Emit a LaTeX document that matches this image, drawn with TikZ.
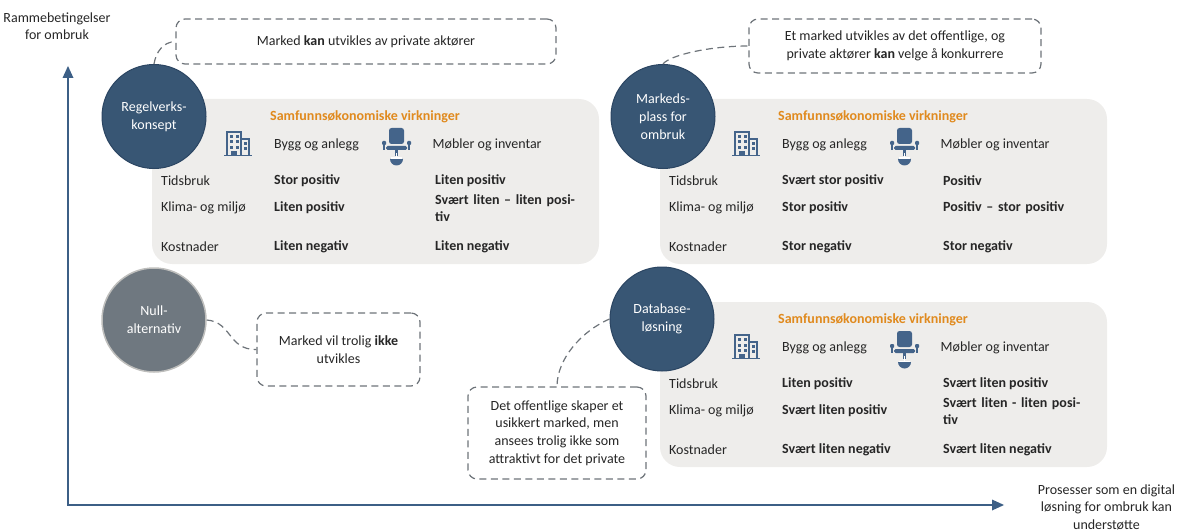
\documentclass[tikz,border=0pt]{standalone}
\usepackage{fontspec}
\setmainfont{Carlito}
\definecolor{navy}{HTML}{385674}
\definecolor{navyd}{HTML}{2B4562}
\definecolor{axisc}{HTML}{3C5F86}
\definecolor{panelc}{HTML}{EEEDEB}
\definecolor{orangec}{HTML}{E08A1E}
\definecolor{dashc}{HTML}{6E747A}
\definecolor{greyc}{HTML}{6F7880}
\definecolor{iconc}{HTML}{44648A}
\tikzset{x=1pt,y=-1pt,
 txt/.style={font=\fontsize{14}{17}\selectfont,text=black!85,anchor=west,inner sep=0,align=left},
 btxt/.style={txt,font=\fontsize{14}{17}\selectfont\bfseries},
 ctxt/.style={font=\fontsize{14}{17.6}\selectfont,text=black!85,align=center,inner sep=0},
 panel/.style={fill=panelc,draw=none,rounded corners=20pt},
 circ/.style={circle,fill=navy,draw=navyd,line width=1pt,minimum size=104pt,inner sep=0,text=white,align=center,font=\fontsize{14}{18}\selectfont},
 dbox/.style={draw=dashc,line width=1.2pt,dash pattern=on 7pt off 4.5pt,rounded corners=9pt,fill=white},
 dlink/.style={draw=dashc,line width=1.2pt,dash pattern=on 7pt off 4.5pt},
 ax/.style={draw=axisc,line width=1.4pt},
 head/.style={font=\fontsize{14}{17}\selectfont\bfseries,text=orangec,inner sep=0},
}
\newcommand{\buildingicon}[2]{%
 \begin{scope}[shift={(#1,#2)},iconc]
  \draw[line width=1pt] (-2,24.5)--(26,24.5);
  \draw[line width=1.2pt] (1,24) -- (1,1) -- (15,1) -- (15,24);
  \draw[line width=1.2pt] (15,8) -- (23,8) -- (23,24);
  \foreach \a in {4,9.5}{\foreach \b in {4,9.5,15}{\fill (\a,\b) rectangle +(3,3);}}
  \fill (5,20) rectangle +(6,4);
  \foreach \b in {11,16}{\fill (17.5,\b) rectangle +(3,3);}
 \end{scope}}
\newcommand{\chairicon}[2]{%
 \begin{scope}[shift={(#1,#2)}]
  \fill[iconc,rounded corners=2.5pt] (7,0) rectangle (22,16);
  \fill[iconc,rounded corners=1.5pt] (4,18) rectangle (25,22);
  \fill[iconc,rounded corners=1pt] (0,13) rectangle (4,17);
  \fill[iconc] (1,16) rectangle (3,22);
  \fill[iconc,rounded corners=1pt] (25,13) rectangle (29,17);
  \fill[iconc] (26,16) rectangle (28,22);
  \fill[iconc] (13.2,22) rectangle (15.8,28);
  \fill[iconc] (8,31) arc[start angle=180,end angle=0,radius=6.5] -- cycle;
  \fill[white] (13.7,25) rectangle (15.3,31);
  \fill[white] (9,29.5) rectangle (20,31);
 \end{scope}}
% #1 panel x, #2 panel y, rows
\newcommand{\impactpanel}[8]{%
 \begin{scope}[shift={(#1,#2)}]
  \fill[panel] (0,0) rectangle (447,165);
  \node[head,anchor=west] at (118,17.5) {Samfunnsøkonomiske virkninger};
  \node[txt] at (122,45.5) {Bygg og anlegg};
  \node[txt] at (280.5,45.5) {Møbler og inventar};
  \node[txt] at (9,82) {Tidsbruk};
  \node[txt] at (9,109) {Klima- og miljø};
  \node[txt] at (9,147.5) {Kostnader};
  \node[btxt] at (122,82) {#3};
  \node[btxt] at (283,82) {#4};
  \node[btxt] at (122,109) {#5};
  \node[btxt,text width=140pt] at (283,#8) {#6};
  \node[btxt] at (122,147.5) {#7};
  \node[btxt] at (283,147.5) {#7};
  \buildingicon{74}{32}
  \chairicon{230}{29}
 \end{scope}}
\begin{document}
\begin{tikzpicture}
\useasboundingbox (0,0) rectangle (1189,532);
% axes
\coordinate (orig) at (68,505);
\coordinate (ytip) at (68,66);
\coordinate (xtip) at (1004,505);
\draw[ax] (ytip |- 0,78) -- (orig) -- (xtip -| 992,0);
\fill[axisc] (ytip) -- (62.5,78) -- (73.5,78) -- cycle;
\fill[axisc] (xtip) -- (992,499.5) -- (992,510.5) -- cycle;
\node[ctxt] (ylab) at (57,26) {Rammebetingelser\\for ombruk};
\node[ctxt] (xlab) at (1106.5,507) {Prosesser som en digital\\løsning for ombruk kan\\understøtte};
% panels
\impactpanel{152}{99}{Stor positiv}{Liten positiv}{Liten positiv}{Svært liten – liten positiv}{Liten negativ}{109}
\impactpanel{660}{99}{Svært stor positiv}{Positiv}{Stor positiv}{Positiv – stor positiv}{Stor negativ}{109}
\impactpanel{660}{302}{Liten positiv}{Svært liten positiv}{Svært liten positiv}{Svært liten - liten positiv}{Svært liten negativ}{109}
% circles
\node[circ] (c1) at (154,116.5) {Regelverks-\\konsept};
\node[circ] (c2) at (663,116.5) {Markeds-\\plass for\\ombruk};
\node[circ] (c3) at (662,319) {Database-\\løsning};
\node[circ,fill=greyc,draw=panelc!80!black,line width=1.5pt] (c4) at (154,320) {Null-\\alternativ};
% dashed boxes
\node[dbox,ctxt,draw=dashc,minimum width=380pt,minimum height=45pt] (b1) at (366,41.5) {Marked \textbf{kan} utvikles av private aktører};
\node[dbox,ctxt,draw=dashc,minimum width=292pt,minimum height=54pt] (b2) at (895,46) {Et marked utvikles av det offentlige, og\\private aktører \textbf{kan} velge å konkurrere};
\node[dbox,ctxt,draw=dashc,minimum width=163pt,minimum height=73pt] (b3) at (338.5,349.5) {Marked vil trolig \textbf{ikke}\\utvikles};
\node[dbox,ctxt,draw=dashc,minimum width=178pt,minimum height=92pt] (b4) at (557,433) {Det offentlige skaper et\\usikkert marked, men\\ansees trolig ikke som\\attraktivt for det private};
% links
\draw[dlink] (c1.north) .. controls (156,52) and (163,42) .. (b1.west);
\draw[dlink] (c2.north) .. controls (670,55) and (710,46) .. (b2.west);
\draw[dlink] (c4.east) .. controls (232,322) and (228,350) .. (b3.west);
\draw[dlink] (c3.west) .. controls (580,332) and (557,360) .. (b4.north);
\end{tikzpicture}
\end{document}
